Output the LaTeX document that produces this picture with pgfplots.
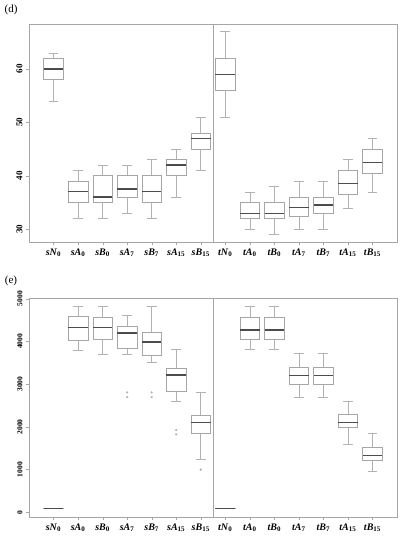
\documentclass[border=0pt]{standalone}
\usepackage{fontspec}
\setmainfont{Liberation Serif}
\usepackage{pgfplots}
\pgfplotsset{compat=1.18}
\usepgfplotslibrary{statistics}

\newcommand{\lab}[2]{\textbf{\textit{#1}}\textsubscript{\textbf{#2}}}

\pgfplotsset{
  panel/.style={
    scale only axis, width=368pt,
    xmin=0, xmax=15,
    axis line style={gray!70}, tick style={gray!70},
    tick align=outside, major tick length=3pt,
    xtick pos=bottom, ytick pos=left,
    xtick={1,...,14},
    xticklabels={\lab{sN}{0},\lab{sA}{0},\lab{sB}{0},\lab{sA}{7},\lab{sB}{7},\lab{sA}{15},\lab{sB}{15},
                 \lab{tN}{0},\lab{tA}{0},\lab{tB}{0},\lab{tA}{7},\lab{tB}{7},\lab{tA}{15},\lab{tB}{15}},
    xticklabel style={font=\fontsize{10}{10}\selectfont, inner xsep=0pt},
    yticklabel style={rotate=90, anchor=south},
    /pgf/number format/assume math mode=true,
    /pgf/number format/1000 sep={},
    boxplot/draw direction=y,
    boxplot/box extend=0.8,
    boxplot/whisker extend=0.4,
    boxplot/every box/.style={draw=gray!70, line width=0.5pt},
    boxplot/every whisker/.style={draw=gray!60, line width=0.5pt},
    boxplot/every median/.style={draw=black!70, line width=1.3pt},
  },
  bp/.style={draw=gray!70, mark=*, mark size=0.9pt, mark options={fill=gray!60, draw=gray!60}},
}

\begin{document}
\begin{tikzpicture}
\path[use as bounding box] (0,0) rectangle (401pt,-536pt);

\node[font=\fontsize{11}{11}\selectfont] at (11pt,-10pt) {(d)};
\node[font=\fontsize{11}{11}\selectfont] at (11pt,-281pt) {(e)};

% panel (d)
\begin{axis}[panel, at={(29pt,-242pt)}, anchor=south west, height=218pt,
  ymin=27.6, ymax=68.4, ytick={30,40,50,60},
  yticklabel style={font=\bfseries\fontsize{9}{9}\selectfont}]
\addplot[bp, boxplot prepared={draw position=1,  lower whisker=54, lower quartile=58,   median=60,   upper quartile=61.9, upper whisker=63}] coordinates {};
\addplot[bp, boxplot prepared={draw position=2,  lower whisker=32, lower quartile=35,   median=37,   upper quartile=39,   upper whisker=41}] coordinates {};
\addplot[bp, boxplot prepared={draw position=3,  lower whisker=32, lower quartile=35,   median=36,   upper quartile=40,   upper whisker=42}] coordinates {};
\addplot[bp, boxplot prepared={draw position=4,  lower whisker=33, lower quartile=36,   median=37.5, upper quartile=40,   upper whisker=42}] coordinates {};
\addplot[bp, boxplot prepared={draw position=5,  lower whisker=32, lower quartile=35,   median=37,   upper quartile=40,   upper whisker=43}] coordinates {};
\addplot[bp, boxplot prepared={draw position=6,  lower whisker=36, lower quartile=40,   median=42,   upper quartile=43,   upper whisker=45}] coordinates {};
\addplot[bp, boxplot prepared={draw position=7,  lower whisker=41, lower quartile=45,   median=47,   upper quartile=48,   upper whisker=51}] coordinates {};
\addplot[bp, boxplot prepared={draw position=8,  lower whisker=51, lower quartile=56,   median=59,   upper quartile=61.9, upper whisker=67}] coordinates {};
\addplot[bp, boxplot prepared={draw position=9,  lower whisker=30, lower quartile=32,   median=33,   upper quartile=35,   upper whisker=37}] coordinates {};
\addplot[bp, boxplot prepared={draw position=10, lower whisker=29, lower quartile=32,   median=33,   upper quartile=35,   upper whisker=38}] coordinates {};
\addplot[bp, boxplot prepared={draw position=11, lower whisker=30, lower quartile=32.5, median=34,   upper quartile=36,   upper whisker=39}] coordinates {};
\addplot[bp, boxplot prepared={draw position=12, lower whisker=30, lower quartile=33,   median=34.5, upper quartile=36,   upper whisker=39}] coordinates {};
\addplot[bp, boxplot prepared={draw position=13, lower whisker=34, lower quartile=36.5, median=38.5, upper quartile=41,   upper whisker=43}] coordinates {};
\addplot[bp, boxplot prepared={draw position=14, lower whisker=37, lower quartile=40.5, median=42.5, upper quartile=45,   upper whisker=47}] coordinates {};
\draw[gray!70] (axis cs:7.5,27.6) -- (axis cs:7.5,68.4);
\end{axis}

% panel (e)
\begin{axis}[panel, at={(29pt,-517pt)}, anchor=south west, height=219pt,
  ymin=-110, ymax=5015, ytick={0,1000,2000,3000,4000,5000},
  yticklabel style={font=\bfseries\fontsize{7.5}{7.5}\selectfont}]
\addplot[bp, boxplot prepared={draw position=1,  lower whisker=88,   lower quartile=92,   median=95,   upper quartile=98,   upper whisker=102}] coordinates {};
\addplot[bp, boxplot prepared={draw position=2,  lower whisker=3804, lower quartile=4037, median=4326, upper quartile=4583, upper whisker=4832}] coordinates {};
\addplot[bp, boxplot prepared={draw position=3,  lower whisker=3702, lower quartile=4053, median=4326, upper quartile=4560, upper whisker=4832}] coordinates {};
\addplot[bp, boxplot prepared={draw position=4,  lower whisker=3702, lower quartile=3835, median=4193, upper quartile=4349, upper whisker=4622}] coordinates {(0,2806) (0,2697)};
\addplot[bp, boxplot prepared={draw position=5,  lower whisker=3523, lower quartile=3687, median=3983, upper quartile=4217, upper whisker=4832}] coordinates {(0,2806) (0,2697)};
\addplot[bp, boxplot prepared={draw position=6,  lower whisker=2595, lower quartile=2837, median=3211, upper quartile=3375, upper whisker=3819}] coordinates {(0,1925) (0,1824)};
\addplot[bp, boxplot prepared={draw position=7,  lower whisker=1247, lower quartile=1839, median=2097, upper quartile=2276, upper whisker=2806}] coordinates {(0,998)};
\addplot[bp, boxplot prepared={draw position=8,  lower whisker=88,   lower quartile=92,   median=95,   upper quartile=98,   upper whisker=102}] coordinates {};
\addplot[bp, boxplot prepared={draw position=9,  lower whisker=3819, lower quartile=4053, median=4263, upper quartile=4560, upper whisker=4817}] coordinates {};
\addplot[bp, boxplot prepared={draw position=10, lower whisker=3819, lower quartile=4053, median=4263, upper quartile=4560, upper whisker=4817}] coordinates {};
\addplot[bp, boxplot prepared={draw position=11, lower whisker=2697, lower quartile=2985, median=3196, upper quartile=3398, upper whisker=3726}] coordinates {};
\addplot[bp, boxplot prepared={draw position=12, lower whisker=2697, lower quartile=2985, median=3196, upper quartile=3398, upper whisker=3726}] coordinates {};
\addplot[bp, boxplot prepared={draw position=13, lower whisker=1590, lower quartile=1988, median=2097, upper quartile=2299, upper whisker=2603}] coordinates {};
\addplot[bp, boxplot prepared={draw position=14, lower whisker=966,  lower quartile=1216, median=1333, upper quartile=1520, upper whisker=1847}] coordinates {};
\draw[gray!70] (axis cs:7.5,-110) -- (axis cs:7.5,5015);
\end{axis}
\end{tikzpicture}
\end{document}
